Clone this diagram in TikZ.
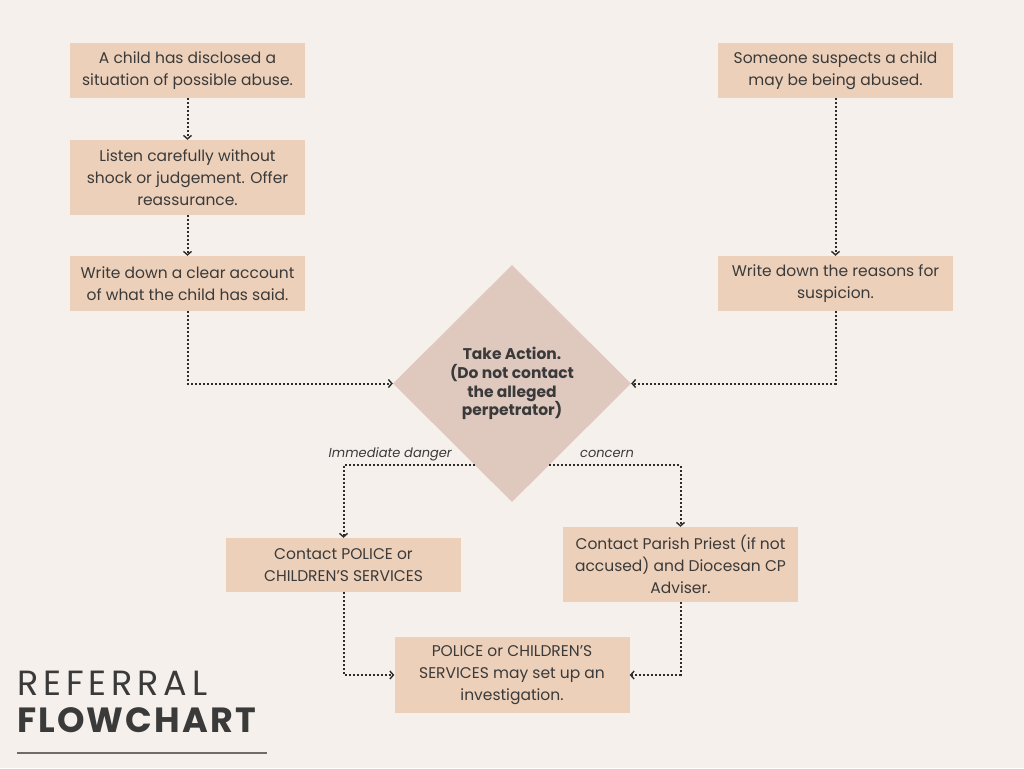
\documentclass[tikz,border=0pt]{standalone}
\usepackage{fontspec}
\setmainfont{Poppins}
\usetikzlibrary{calc, shapes.geometric, arrows.meta}
\definecolor{bg}{HTML}{F5F0EB}
\definecolor{boxfill}{HTML}{EDD0B9}
\definecolor{diafill}{HTML}{DFC9BF}
\definecolor{txt}{HTML}{3A3A3A}
\definecolor{dots}{HTML}{2E2B29}
\definecolor{rulegray}{HTML}{6E6B69}

\begin{document}
\begin{tikzpicture}[x=1pt, y=-1pt,
    stage/.style={rectangle, fill=boxfill, minimum width=235, inner sep=0, align=center, text=txt, font=\fontsize{15.5}{22}\selectfont},
    flow/.style={dots, dash pattern=on 2pt off 2pt, line width=2pt, -{Straight Barb[length=3.5pt, width=8pt, line width=1.4pt]}},
    lbl/.style={inner sep=0, text=txt, font=\fontsize{13}{14}\selectfont\itshape}]

        % page
        \fill[bg] (0,0) rectangle (1024,768);

        % left column
        \node[stage, minimum height=55] (disclose) at (187.5,70.5) {A child has disclosed a\\situation of possible abuse.};
        \node[stage, minimum height=75] (listen) at (187.5,177.5) {Listen carefully without\\shock or judgement. Offer\\reassurance.};
        \node[stage, minimum height=55] (account) at (187.5,283.5) {Write down a clear account\\of what the child has said.};

        % right column
        \node[stage, minimum height=55] (suspect) at (835.5,70.5) {Someone suspects a child\\may be being abused.};
        \node[stage, minimum height=55] (reasons) at (835.5,283.5) {Write down the reasons for\\suspicion.};

        % decision
        \node[diamond, fill=diafill, minimum width=238, minimum height=237, inner sep=0, align=center, text=txt, font=\fontsize{15.5}{18.7}\selectfont\bfseries] (act) at (512,383.5) {Take Action.\\(Do not contact\\the alleged\\perpetrator)};

        % outcomes
        \node[stage, minimum height=54] (police) at (343.5,565) {Contact POLICE or\\CHILDREN’S SERVICES};
        \node[stage, minimum height=75] (priest) at (680.5,564.5) {Contact Parish Priest (if not\\accused) and Diocesan CP\\Adviser.};
        \node[stage, minimum height=76] (invest) at (512,675) {POLICE or CHILDREN’S\\SERVICES may set up an\\investigation.};

        % columns to decision
        \draw[flow] (disclose) -- (listen);
        \draw[flow] (listen) -- (account);
        \draw[flow] (account.south) |- (act.west);
        \draw[flow] (suspect) -- (reasons);
        \draw[flow] (reasons.south) |- (act.east);

        % decision to outcomes
        \coordinate (dl) at ($(act.west)!0.69!(act.south)$);
        \coordinate (dr) at ($(act.east)!0.69!(act.south)$);
        \draw[flow] (dl) -| (police.north);
        \draw[flow] (dr) -| (priest.north);
        \node[lbl, anchor=base east] (danger) at (452,457) {Immediate danger};
        \node[lbl, anchor=base west] (concern) at (580,457) {concern};

        % outcomes to investigation
        \draw[flow] (police.south) |- (invest.west);
        \draw[flow] (priest.south) |- (invest.east);

        % title
        \node[anchor=base west, inner sep=0, text=txt, font=\fontsize{35}{35}\selectfont\addfontfeatures{LetterSpace=14}] (ref) at (17,695) {REFERRAL};
        \node[anchor=base west, inner sep=0, text=txt, font=\fontsize{35}{35}\selectfont\bfseries\addfontfeatures{LetterSpace=6}] (fc) at (17,732) {FLOWCHART};
        \draw[rulegray, line width=1.6] (17,753) -- (267,753);

\end{tikzpicture}
\end{document}
